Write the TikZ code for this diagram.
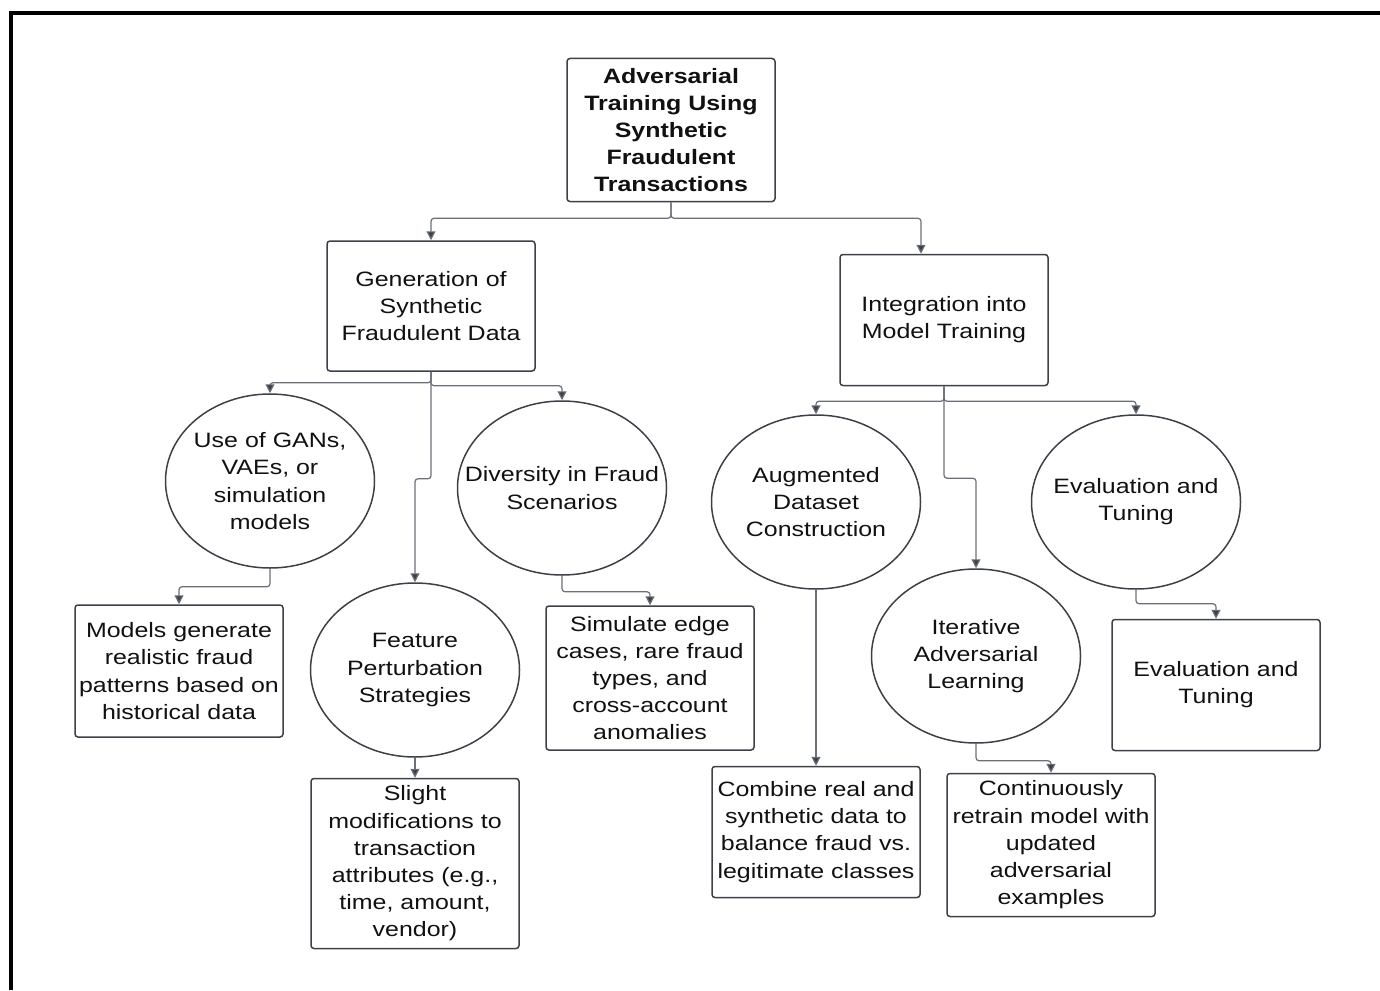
\documentclass[tikz,border=0pt]{standalone}
\usepackage{fontspec}
\setmainfont{Liberation Sans}[FakeStretch=1.2]
\usepackage{tikz}
\usetikzlibrary{arrows.meta,positioning,shapes.geometric}
\definecolor{edge}{HTML}{3C4148}
\definecolor{wire}{HTML}{6B7078}
\definecolor{ink}{HTML}{111111}
\tikzset{
  box/.style={rectangle, rounded corners=1.5pt, draw=edge, line width=0.75pt, fill=white,
              align=center, text=ink, inner sep=2pt, minimum width=104pt},
  blob/.style={ellipse, draw=edge, line width=0.75pt, fill=white, align=center,
               text=ink, inner xsep=-14pt, inner ysep=0pt,
               minimum width=104.5pt, minimum height=87pt},
  link/.style={draw=wire, line width=0.6pt, rounded corners=1.5pt,
               -{Triangle[length=4.5pt,width=4.5pt,fill=edge]}},
  frame/.style={draw=black, line width=2pt}
}

\begin{document}
\begin{tikzpicture}[x=0.5pt, y=-0.5pt, font=\fontsize{10.4}{13.6}\selectfont]
  \useasboundingbox (0,0) rectangle (1380,990);
  \draw[frame] (11,990) -- (11,13) -- (1380,13);

  % top and the two branches
  \node[box, minimum height=71.5pt, font=\fontsize{10.4}{13.6}\selectfont\bfseries] (top) at (671,130)
    {Adversarial\\Training Using\\Synthetic\\Fraudulent\\Transactions};
  \node[box, minimum height=65pt] (gen) at (431,306) {Generation of\\Synthetic\\Fraudulent Data};
  \node[box, minimum height=65.5pt] (integ) at (944,320) {Integration into\\Model Training};

  % left branch
  \node[blob] (gans) at (270,481) {Use of GANs,\\VAEs, or\\simulation\\models};
  \node[blob] (div) at (562,488) {Diversity in Fraud\\Scenarios};
  \node[blob] (feat) at (415,670) {Feature\\Perturbation\\Strategies};
  \node[box, minimum height=66pt] (models) at (179,671)
    {Models generate\\realistic fraud\\patterns based on\\historical data};
  \node[box, minimum height=72pt] (sim) at (650,678)
    {Simulate edge\\cases, rare fraud\\types, and\\cross-account\\anomalies};
  \node[box, minimum height=85pt, below=10pt of feat] (slight)
    {Slight\\modifications to\\transaction\\attributes (e.g.,\\time, amount,\\vendor)};

  % right branch
  \node[blob] (aug) at (816,502) {Augmented\\Dataset\\Construction};
  \node[blob] (evl) at (1136,502) {Evaluation and\\Tuning};
  \node[blob] (iter) at (976,656) {Iterative\\Adversarial\\Learning};
  \node[box, minimum height=65.5pt, below=88pt of aug] (comb)
    {Combine real and\\synthetic data to\\balance fraud vs.\\legitimate classes};
  \node[box, minimum height=71.5pt] (cont) at (1051,845)
    {Continuously\\retrain model with\\updated\\adversarial\\examples};
  \node[box, minimum height=65.5pt] (evb) at (1216,685) {Evaluation and\\Tuning};

  \draw[link] (top.south) -- ++(0,16) -| (gen.north);
  \draw[link] (top.south) -- ++(0,16) -| ([xshift=-11.5pt]integ.north);
  \draw[link] (gen.south) -- ++(0,11) -| (gans.north);
  \draw[link] (gen.south) -- ++(0,14) -| (div.north);
  \draw[link] (gen.south) -- ++(0,107) -| (feat.north);
  \draw[link] (gans.south) -- ++(0,18) -| (models.north);
  \draw[link] (div.south) -- ++(0,16) -| (sim.north);
  \draw[link] (feat) -- (slight);
  \draw[link] (integ.south) -- ++(0,15) -| (aug.north);
  \draw[link] (integ.south) -- ++(0,15) -| (evl.north);
  \draw[link] (integ.south) -- ++(0,92) -| (iter.north);
  \draw[link] (aug) -- (comb);
  \draw[link] (iter.south) -- ++(0,17) -| (cont.north);
  \draw[link] (evl.south) -- ++(0,14) -| (evb.north);
\end{tikzpicture}
\end{document}
